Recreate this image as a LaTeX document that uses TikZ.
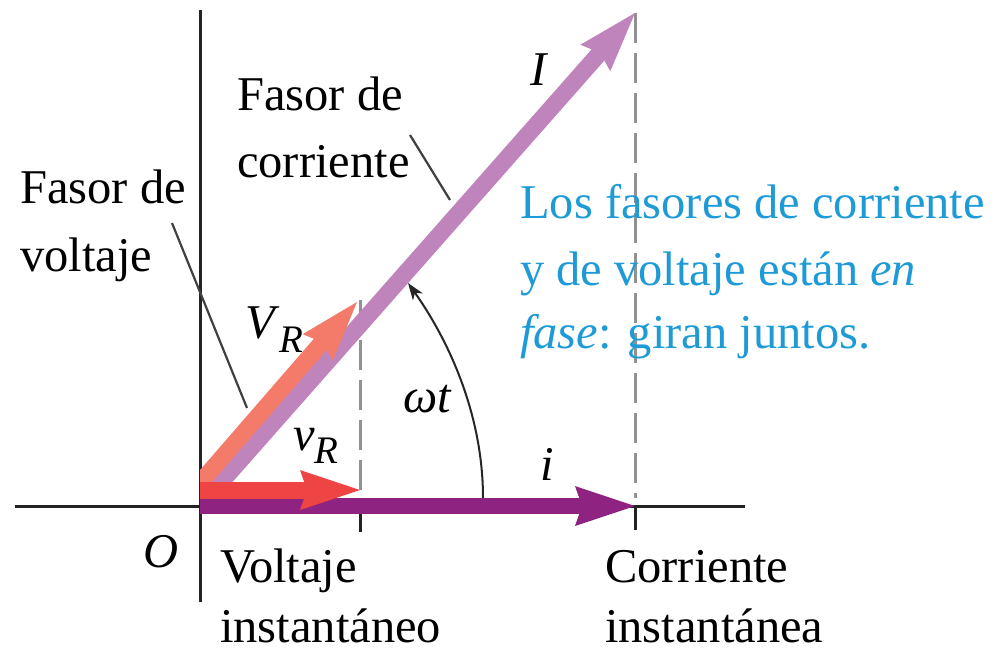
\documentclass[tikz,border=0pt]{standalone}
\usepackage{fontspec}
\setmainfont{Liberation Serif}
\usetikzlibrary{arrows.meta}
\definecolor{cI}{RGB}{192,132,188}
\definecolor{cVR}{RGB}{244,122,106}
\definecolor{cvr}{RGB}{239,68,68}
\definecolor{ci}{RGB}{142,35,129}
\definecolor{cblue}{RGB}{30,155,215}
\definecolor{cdash}{RGB}{145,145,145}
\definecolor{caxis}{RGB}{35,35,35}
\begin{document}
\begin{tikzpicture}[x=1pt,y=-1pt,
  axisline/.style={line width=3pt,draw=caxis},
  dashline/.style={line width=3pt,draw=cdash,dash pattern=on 30pt off 10pt},
  leader/.style={line width=2.2pt,draw=black!75},
  bigtip/.style={-{Stealth[length=60pt,width=40pt,inset=7pt,line width=0pt]}},
  lbl/.style={font=\rmfamily\fontsize{48.5}{60}\selectfont,inner sep=0pt,anchor=base west},
  bluelbl/.style={lbl,text=cblue}]
\useasboundingbox (0,0) rectangle (997,653);
% coordinates
\coordinate (O) at (200,506);
\coordinate (axL) at (15,506);
\coordinate (axR) at (745,506);
\coordinate (axT) at (200,10);
\coordinate (axB) at (200,602);
\coordinate (Itip) at (635,13);
\coordinate (VRs) at (200,483);
\coordinate (VRtip) at (357,302);
\coordinate (itip) at (635,506);
\coordinate (vrs) at (200,490);
\coordinate (vrtip) at (360,490);
\coordinate (d1top) at (360,300);
\coordinate (d1bot) at (360,490);
\coordinate (d2top) at (635,13);
\coordinate (d2bot) at (635,498);
\coordinate (t1a) at (360,507);
\coordinate (t1b) at (360,532);
\coordinate (t2a) at (635,507);
\coordinate (t2b) at (635,530);
\coordinate (arcS) at (483,498);
\coordinate (arcE) at (408,283);
\coordinate (lv1) at (172,223);
\coordinate (lv2) at (247,408);
\coordinate (lc1) at (410,135);
\coordinate (lc2) at (450,200);
% axes
\draw[axisline] (axL) -- (axR);
\draw[axisline] (axT) -- (axB);
\draw[axisline] (t1a) -- (t1b);
\draw[axisline] (t2a) -- (t2b);
% dashed projections
\draw[dashline] (d1top) -- (d1bot);
\draw[dashline] (d2top) -- (d2bot);
% phasors
\begin{scope}
\clip (200,0) rectangle (997,653);
\draw[line width=17pt,draw=cI,fill=cI,bigtip] (O) -- (Itip);
\draw[line width=17pt,draw=cVR,fill=cVR,bigtip] (VRs) -- (VRtip);
\end{scope}
\draw[line width=16pt,draw=ci,fill=ci,bigtip] (O) -- (itip);
\draw[line width=17pt,draw=cvr,fill=cvr,bigtip] (vrs) -- (vrtip);
% angle arc
\draw[line width=2pt,draw=black!85,-{Stealth[length=17pt,width=12pt,inset=5pt]}]
  (arcS) .. controls (483,410) and (445,335) .. (arcE);
% leaders
\draw[leader] (lv1) -- (lv2);
\draw[leader] (lc1) -- (lc2);
% labels
\node[lbl] (fc1) at (237,110) {Fasor de};
\node[lbl] (fc2) at (237,177) {corriente};
\node[lbl] (fv1) at (20,203) {Fasor de};
\node[lbl] (fv2) at (20,271) {voltaje};
\node[bluelbl] (b1) at (520,218) {Los fasores de corriente};
\node[bluelbl] (b2) at (520,285) {y de voltaje están \textit{en}};
\node[bluelbl] (b3) at (520,348) {\textit{fase}: giran juntos.};
\node[lbl] (vi1) at (220,582) {Voltaje};
\node[lbl] (vi2) at (220,642) {instantáneo};
\node[lbl] (ci1) at (605,582) {Corriente};
\node[lbl] (ci2) at (605,642) {instantánea};
\node[lbl] (lO) at (143,567) {\textit{O}};
\node[lbl] (lI) at (530,85) {\textit{I}};
\node[lbl] (lVR) at (245,338) {\textit{V}\raisebox{-14pt}{\fontsize{39}{40}\selectfont\textit{R}}};
\node[lbl] (lvr) at (293,450) {\textit{v}\raisebox{-13pt}{\fontsize{39}{40}\selectfont\textit{R}}};
\node[lbl] (lwt) at (403,412) {\textit{ωt}};
\node[lbl] (li) at (540,480) {\textit{i}};
\end{tikzpicture}
\end{document}
